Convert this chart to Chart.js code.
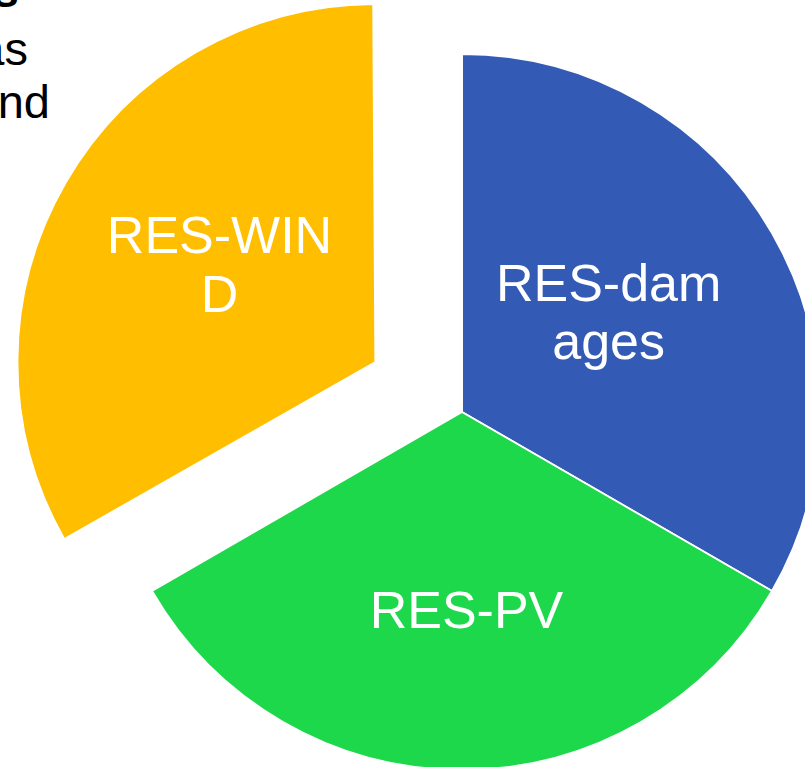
<!DOCTYPE html>
<html>
<head>
<meta charset="utf-8">
<script src="https://cdn.jsdelivr.net/npm/chart.js@4/dist/chart.umd.min.js"></script>
<style>
  html, body { margin: 0; padding: 0; background: #ffffff; }
  body { width: 805px; height: 767px; overflow: hidden; position: relative; }
  #chart { position: absolute; left: 0; top: 0; }
  .frag { position: absolute; font-family: "Liberation Sans", Arial, sans-serif; font-size: 47px; line-height: 47px; color: #000; white-space: nowrap; text-align: right; }
</style>
</head>
<body>
<div class="frag" style="right:786px; top:-33px; font-weight:bold;">s</div>
<div class="frag" style="right:777px; top:25px;">as</div>
<div class="frag" style="right:755px; top:78px;">nd</div>
<canvas id="chart" width="924" height="824"></canvas>
<script>
// ---- data ----
const categories = ['RES-damages', 'RES-PV', 'RES-WIND'];
const shares = [1, 1, 1];
const sliceColors = ['#335BB5', '#1ED84B', '#FFBE00'];
const explode = [0, 0, 400];   // Chart.js v4 translates by offset/4

// label placement: fraction of radius along the bisector, and perpendicular shift
const labelAlong = [177.4, 197.5, 184];
const labelPerp = [-14, -4.5, 6.9];

const labelPlugin = {
  id: 'sliceLabels',
  afterDatasetsDraw(chart) {
    const ctx = chart.ctx;
    const meta = chart.getDatasetMeta(0);
    const fontSize = 52;
    const lineGap = 58.5;
    const capH = 0.716 * fontSize;
    ctx.save();
    ctx.font = fontSize + 'px "Liberation Sans", Arial, sans-serif';
    ctx.fillStyle = '#ffffff';
    ctx.textAlign = 'center';
    ctx.textBaseline = 'alphabetic';
    meta.data.forEach((arc, i) => {
      const p = arc.getProps(['x', 'y', 'startAngle', 'endAngle', 'outerRadius'], true);
      const mid = (p.startAngle + p.endAngle) / 2;
      const off = (arc.options.offset || 0) / 4;
      const dx = Math.cos(mid), dy = Math.sin(mid);
      const px = -dy, py = dx;
      const cx = p.x + dx * off + dx * labelAlong[i] + px * labelPerp[i];
      const cy = p.y + dy * off + dy * labelAlong[i] + py * labelPerp[i];
      // character wrap to the label box width
      const maxW = 240;
      const text = categories[i];
      const lines = [];
      let cur = '';
      for (const ch of text) {
        if (cur && ctx.measureText(cur + ch).width > maxW) { lines.push(cur); cur = ch; }
        else cur += ch;
      }
      if (cur) lines.push(cur);
      const n = lines.length;
      lines.forEach((ln, k) => {
        const base = cy - (n - 1) * lineGap / 2 + k * lineGap + capH / 2;
        ctx.fillText(ln, cx, base);
      });
    });
    ctx.restore();
  }
};

// keep exploded slice same radius (v4 adds offset*fix to radius when drawing)
const radiusFix = {
  id: 'radiusFix',
  beforeDatasetsDraw(chart) {
    const meta = chart.getDatasetMeta(0);
    meta.data.forEach(arc => {
      if (arc._baseR === undefined) arc._baseR = arc.outerRadius;
      const off = (arc.options.offset || 0) / 4;
      const circ = arc.endAngle - arc.startAngle;
      const fix = 1 - Math.sin(Math.min(Math.PI, circ || 0));
      arc.outerRadius = arc._baseR - off * fix;
    });
  }
};

new Chart(document.getElementById('chart'), {
  type: 'pie',
  data: {
    labels: categories,
    datasets: [{
      data: shares,
      backgroundColor: sliceColors,
      borderColor: '#ffffff',
      borderWidth: 2,
      offset: explode
    }]
  },
  options: {
    responsive: false,
    animation: false,
    radius: 358,
    layout: { padding: 0 },
    plugins: {
      legend: { display: false },
      tooltip: { enabled: false }
    }
  },
  plugins: [radiusFix, labelPlugin]
});
</script>
</body>
</html>
